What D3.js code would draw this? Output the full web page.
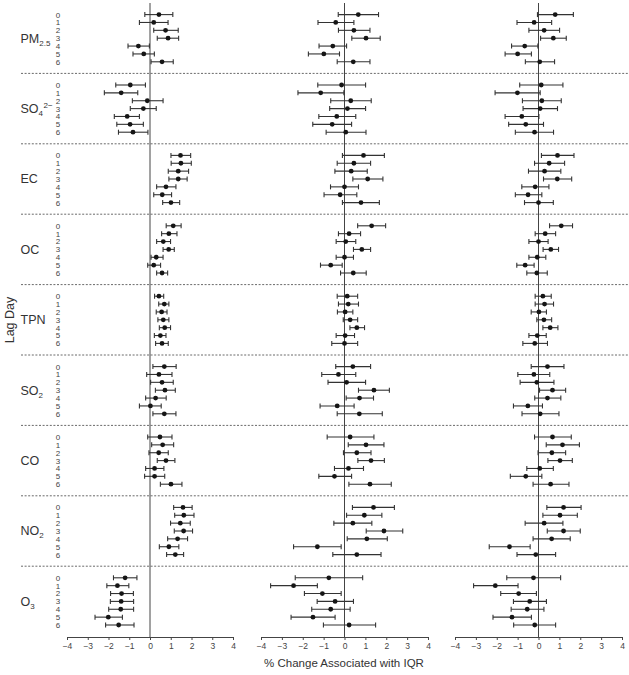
<!DOCTYPE html>
<html>
<head>
<meta charset="utf-8">
<script src="https://cdn.jsdelivr.net/npm/d3@7"></script>
<style>
  body { margin: 0; background: #fff; }
  svg { display: block; font-family: "Liberation Sans", Arial, sans-serif; }
</style>
</head>
<body>
<div id="chart"></div>
<script>
// pollutant groups (top to bottom) and lag days inside each group
const pollutants = ['PM2.5', 'SO42-', 'EC', 'OC', 'TPN', 'SO2', 'CO', 'NO2', 'O3'];
const lags = [0, 1, 2, 3, 4, 5, 6];
const xTicks = [-4, -3, -2, -1, 0, 1, 2, 3, 4];

// each row: [estimate, lower CI, upper CI], one block of 7 lags per pollutant
const panel1 = [
  [[0.43,-0.25,1.10],[0.18,-0.51,0.87],[0.75,0.18,1.36],[0.87,0.35,1.38],[-0.56,-1.06,-0.03],[-0.30,-0.82,0.21],[0.58,0.05,1.12]],
  [[-0.95,-1.65,-0.22],[-1.39,-2.20,-0.59],[-0.13,-0.85,0.63],[-0.32,-0.95,0.30],[-1.10,-1.72,-0.51],[-0.96,-1.60,-0.32],[-0.82,-1.52,-0.10]],
  [[1.47,1.01,1.96],[1.49,1.02,1.99],[1.36,0.88,1.86],[1.36,0.91,1.79],[0.77,0.32,1.25],[0.59,0.18,1.04],[1.01,0.61,1.43]],
  [[1.12,0.78,1.50],[0.91,0.56,1.30],[0.64,0.32,0.99],[0.90,0.63,1.17],[0.30,0.05,0.63],[0.18,-0.11,0.51],[0.58,0.32,0.85]],
  [[0.43,0.22,0.66],[0.69,0.42,0.91],[0.56,0.30,0.82],[0.64,0.38,0.91],[0.71,0.45,0.99],[0.50,0.21,0.77],[0.58,0.27,0.88]],
  [[0.69,0.14,1.26],[0.43,-0.16,1.06],[0.58,0.03,1.12],[0.72,0.26,1.22],[0.27,-0.21,0.78],[0.02,-0.51,0.54],[0.69,0.14,1.25]],
  [[0.48,-0.11,1.06],[0.61,0.08,1.14],[0.42,-0.05,0.88],[0.77,0.35,1.20],[0.22,-0.21,0.67],[0.22,-0.26,0.71],[1.01,0.50,1.54]],
  [[1.59,1.14,2.03],[1.63,1.19,2.12],[1.46,0.99,1.94],[1.62,1.17,2.05],[1.33,0.85,1.81],[0.91,0.45,1.39],[1.22,0.80,1.62]],
  [[-1.20,-1.76,-0.63],[-1.57,-2.08,-1.02],[-1.37,-1.90,-0.80],[-1.39,-1.91,-0.79],[-1.41,-1.99,-0.79],[-2.01,-2.65,-1.33],[-1.51,-2.14,-0.77]]
];
const panel2 = [
  [[0.66,-0.30,1.63],[-0.42,-1.27,0.45],[0.45,-0.29,1.22],[1.03,0.35,1.71],[-0.56,-1.22,0.10],[-0.99,-1.73,-0.24],[0.42,-0.35,1.22]],
  [[-0.14,-1.28,1.01],[-1.14,-2.23,-0.03],[0.30,-0.66,1.28],[0.14,-0.71,1.01],[-0.37,-1.23,0.54],[-0.59,-1.52,0.34],[0.06,-0.88,1.03]],
  [[0.91,-0.10,1.91],[0.45,-0.35,1.25],[0.32,-0.46,1.09],[1.11,0.40,1.84],[0.00,-0.67,0.67],[-0.21,-0.98,0.59],[0.79,-0.10,1.67]],
  [[1.30,0.63,1.97],[0.22,-0.29,0.77],[0.06,-0.40,0.54],[0.83,0.43,1.25],[0.00,-0.40,0.43],[-0.66,-1.15,-0.11],[0.42,-0.19,1.04]],
  [[0.13,-0.35,0.63],[0.18,-0.29,0.67],[0.03,-0.34,0.40],[0.27,-0.06,0.63],[0.59,0.26,0.96],[0.03,-0.40,0.48],[0.00,-0.61,0.63]],
  [[0.40,-0.42,1.25],[-0.29,-1.09,0.54],[0.10,-0.79,1.01],[1.41,0.67,2.15],[0.72,0.08,1.39],[-0.35,-1.17,0.46],[0.71,-0.35,1.81]],
  [[0.27,-0.83,1.41],[1.03,0.18,1.89],[0.59,-0.05,1.27],[1.27,0.64,1.91],[0.19,-0.48,0.91],[-0.48,-1.23,0.34],[1.22,0.21,2.24]],
  [[1.39,0.38,2.39],[0.95,0.10,1.79],[0.40,-0.51,1.31],[1.89,1.04,2.79],[1.07,0.13,2.05],[-1.30,-2.44,-0.16],[0.59,-0.56,1.75]],
  [[-0.75,-2.36,0.87],[-2.44,-3.54,-1.30],[-1.06,-1.92,-0.16],[-0.45,-1.31,0.43],[-0.66,-1.57,0.27],[-1.51,-2.56,-0.45],[0.22,-1.01,1.49]]
];
const panel3 = [
  [[0.80,-0.05,1.67],[-0.21,-1.03,0.63],[0.27,-0.46,1.01],[0.71,0.10,1.33],[-0.66,-1.29,-0.03],[-1.00,-1.60,-0.34],[0.06,-0.63,0.77]],
  [[0.13,-0.90,1.17],[-1.01,-2.08,0.08],[0.16,-0.77,1.09],[0.08,-0.74,0.91],[-0.80,-1.60,0.02],[-0.61,-1.43,0.24],[-0.19,-1.11,0.72]],
  [[0.91,0.14,1.70],[0.51,-0.19,1.25],[0.29,-0.48,1.07],[0.90,0.24,1.59],[-0.16,-0.80,0.50],[-0.50,-1.11,0.16],[0.00,-0.67,0.71]],
  [[1.09,0.53,1.63],[0.32,-0.16,0.82],[0.00,-0.46,0.46],[0.59,0.22,0.96],[-0.06,-0.46,0.35],[-0.64,-1.04,-0.21],[-0.08,-0.56,0.42]],
  [[0.21,-0.16,0.61],[0.29,-0.16,0.72],[0.02,-0.35,0.38],[0.26,-0.08,0.63],[0.56,0.21,0.93],[-0.06,-0.46,0.37],[-0.18,-0.75,0.43]],
  [[0.43,-0.35,1.22],[-0.22,-0.99,0.54],[-0.08,-0.88,0.74],[0.67,0.05,1.30],[0.43,-0.18,1.07],[-0.51,-1.20,0.19],[0.08,-0.79,0.98]],
  [[0.67,-0.19,1.57],[1.15,0.37,1.96],[0.64,-0.02,1.30],[1.03,0.45,1.62],[0.06,-0.56,0.71],[-0.61,-1.35,0.16],[0.58,-0.26,1.46]],
  [[1.20,0.40,2.04],[1.03,0.21,1.86],[0.27,-0.64,1.17],[1.20,0.42,2.00],[0.63,-0.26,1.52],[-1.39,-2.36,-0.40],[-0.13,-1.03,0.82]],
  [[-0.24,-1.52,1.06],[-2.07,-3.11,-0.98],[-0.95,-1.81,-0.10],[-0.42,-1.20,0.38],[-0.54,-1.31,0.26],[-1.27,-2.18,-0.34],[-0.18,-1.19,0.82]]
];

const width = 629, height = 675;
const plotTop = 3, plotBottom = 637;

const svg = d3.select('#chart').append('svg')
    .attr('width', width)
    .attr('height', height);

// one band per pollutant, lags spread inside the band
const yGroup = d3.scaleBand().domain(pollutants).range([plotTop, 636.6]);
const yLag = d3.scalePoint().domain(lags).range([11.6, 58.8]);
const rowY = (p, lag) => yGroup(p) + yLag(lag);

// dotted separators between pollutant groups, across all panels
svg.append('g').attr('class', 'separators')
    .selectAll('line')
    .data(pollutants.slice(1))
    .enter()
    .append('line')
    .attr('x1', 21).attr('x2', width)
    .attr('y1', d => yGroup(d)).attr('y2', d => yGroup(d))
    .attr('stroke', '#6a6a6a')
    .attr('stroke-width', 1)
    .attr('stroke-dasharray', '2,1.6');

// pollutant labels with sub/superscripts
const labelParts = {
  'PM2.5': [['PM', 0], ['2.5', 'sub']],
  'SO42-': [['SO', 0], ['4', 'sub'], ['2\u2212', 'sup']],
  'EC': [['EC', 0]],
  'OC': [['OC', 0]],
  'TPN': [['TPN', 0]],
  'SO2': [['SO', 0], ['2', 'sub']],
  'CO': [['CO', 0]],
  'NO2': [['NO', 0], ['2', 'sub']],
  'O3': [['O', 0], ['3', 'sub']]
};
const labels = svg.append('g').attr('class', 'labels');
pollutants.forEach(p => {
  const t = labels.append('text')
      .attr('x', 20.5)
      .attr('y', rowY(p, 3) + 4.3)
      .attr('font-size', 12.5)
      .attr('fill', '#333');
  let prev = 0;
  labelParts[p].forEach(([s, kind]) => {
    const span = t.append('tspan').text(s);
    if (kind === 'sub') {
      span.attr('font-size', 8).attr('dy', 3 - prev); prev = 3;
    } else if (kind === 'sup') {
      span.attr('font-size', 8).attr('dy', -5 - prev).attr('dx', 0.5); prev = -5;
    }
  });
});

// lag numbers, left panel only
const lagLabels = svg.append('g').attr('class', 'lag-labels');
pollutants.forEach(p => {
  lagLabels.selectAll(null)
      .data(lags)
      .enter()
      .append('text')
      .attr('x', 58)
      .attr('y', d => rowY(p, d) + 2.9)
      .attr('text-anchor', 'middle')
      .attr('font-size', 8)
      .attr('fill', '#444')
      .text(d => d);
});

// y axis title
svg.append('text')
    .attr('transform', 'translate(14,320) rotate(-90)')
    .attr('text-anchor', 'middle')
    .attr('font-size', 12.5)
    .attr('fill', '#333')
    .text('Lag Day');

const panels = [
  {data: panel1, range: [67, 233]},
  {data: panel2, range: [261, 428]},
  {data: panel3, range: [455, 622]}
];

panels.forEach(panel => {
  const x = d3.scaleLinear().domain([-4, 4]).range(panel.range);
  const g = svg.append('g').attr('class', 'panel');

  // zero reference line
  g.append('line')
      .attr('x1', x(0)).attr('x2', x(0))
      .attr('y1', plotTop).attr('y2', plotBottom)
      .attr('stroke', '#444')
      .attr('stroke-width', 1);

  // x axis
  const axis = g.append('g')
      .attr('transform', 'translate(0,' + plotBottom + ')')
      .call(d3.axisBottom(x)
          .tickValues(xTicks)
          .tickSize(3)
          .tickSizeOuter(0)
          .tickFormat(d => d < 0 ? '\u2212' + Math.abs(d) : d));
  axis.select('.domain').attr('stroke', '#444');
  axis.selectAll('.tick line').attr('stroke', '#444');
  axis.selectAll('.tick text')
      .attr('font-size', 8.5)
      .attr('font-family', '"Liberation Sans", Arial, sans-serif')
      .attr('fill', '#444');

  // error bars and points
  const rows = [];
  pollutants.forEach((p, i) => {
    panel.data[i].forEach((v, lag) => {
      rows.push({p: p, lag: lag, est: v[0], lo: v[1], hi: v[2]});
    });
  });

  const bars = g.append('g').attr('class', 'bars')
      .attr('stroke', '#333')
      .attr('stroke-width', 1.1);
  bars.selectAll('line.ci')
      .data(rows)
      .enter()
      .append('line')
      .attr('class', 'ci')
      .attr('x1', d => x(d.lo)).attr('x2', d => x(d.hi))
      .attr('y1', d => rowY(d.p, d.lag)).attr('y2', d => rowY(d.p, d.lag));
  bars.selectAll('line.caplo')
      .data(rows)
      .enter()
      .append('line')
      .attr('class', 'caplo')
      .attr('x1', d => x(d.lo)).attr('x2', d => x(d.lo))
      .attr('y1', d => rowY(d.p, d.lag) - 2.5).attr('y2', d => rowY(d.p, d.lag) + 2.5);
  bars.selectAll('line.caphi')
      .data(rows)
      .enter()
      .append('line')
      .attr('class', 'caphi')
      .attr('x1', d => x(d.hi)).attr('x2', d => x(d.hi))
      .attr('y1', d => rowY(d.p, d.lag) - 2.5).attr('y2', d => rowY(d.p, d.lag) + 2.5);

  g.append('g').attr('class', 'points')
      .selectAll('circle')
      .data(rows)
      .enter()
      .append('circle')
      .attr('cx', d => x(d.est))
      .attr('cy', d => rowY(d.p, d.lag))
      .attr('r', 2.4)
      .attr('fill', '#151515');
});

// x axis title
svg.append('text')
    .attr('x', 344)
    .attr('y', 667)
    .attr('text-anchor', 'middle')
    .attr('font-size', 11.5)
    .attr('fill', '#333')
    .text('% Change Associated with IQR');
</script>
</body>
</html>
